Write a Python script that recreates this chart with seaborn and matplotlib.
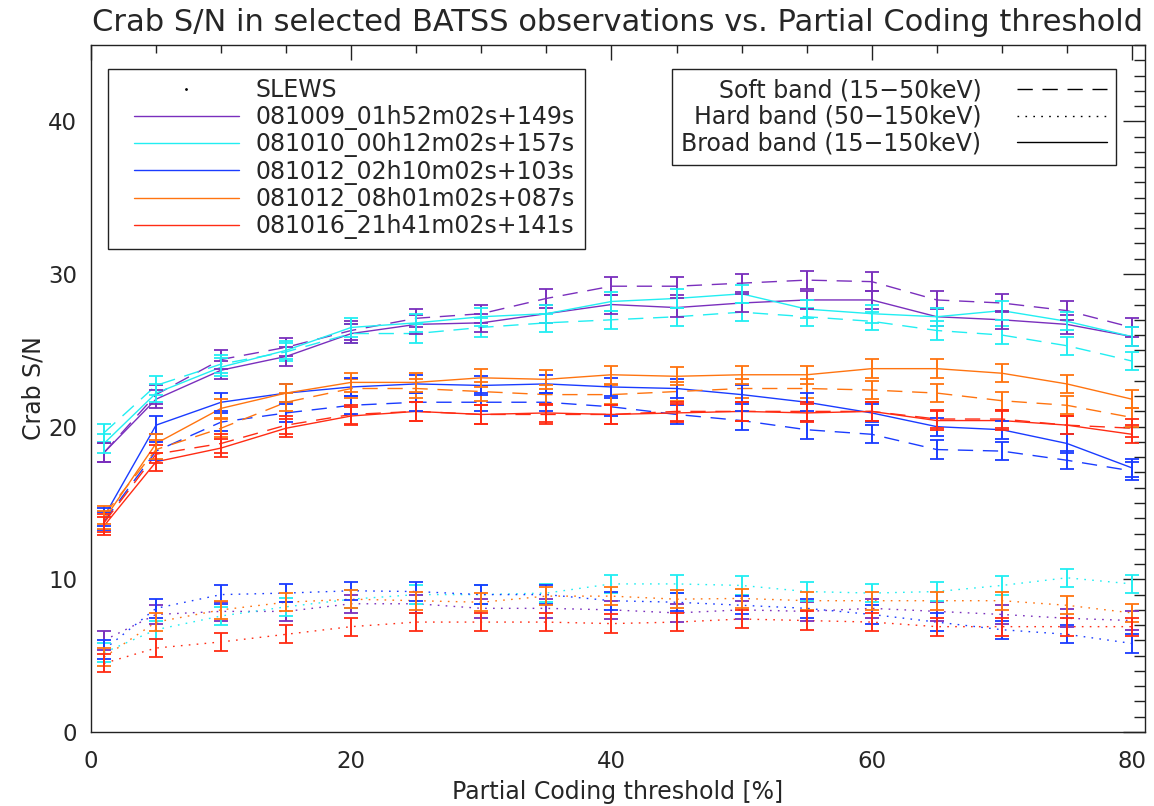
import matplotlib
matplotlib.use("Agg")
import matplotlib.pyplot as plt
from matplotlib.lines import Line2D
from matplotlib.legend_handler import HandlerLine2D
from matplotlib.ticker import MultipleLocator
import seaborn as sns
import pandas as pd

# ---------------- data ----------------
pc_threshold = [1, 5, 10, 15, 20, 25, 30, 35, 40, 45, 50, 55, 60, 65, 70, 75, 80]

observations = ["081009_01h52m02s+149s", "081010_00h12m02s+157s",
                "081012_02h10m02s+103s", "081012_08h01m02s+087s",
                "081016_21h41m02s+141s"]
obs_colors = ["#7a2fbd", "#22eef2", "#1a3cff", "#ff7410", "#ff2c14"]

bands = ["Soft band (15\u221250keV)", "Hard band (50\u2212150keV)", "Broad band (15\u2212150keV)"]

# broad band (solid)
broad_081009 = [18.3, 21.8, 23.7, 24.6, 26.1, 26.7, 26.8, 27.4, 28.0, 27.8, 28.1, 28.3, 28.3, 27.2, 27.0, 26.7, 25.9]
broad_081010 = [18.9, 22.2, 23.9, 25.0, 26.5, 26.8, 27.2, 27.4, 28.2, 28.4, 28.7, 27.7, 27.4, 27.2, 27.6, 26.9, 25.9]
broad_081012a = [14.1, 20.1, 21.6, 22.2, 22.6, 22.8, 22.7, 22.8, 22.6, 22.5, 22.1, 21.6, 20.9, 20.0, 19.8, 18.9, 17.3]
broad_081012b = [13.9, 18.9, 21.2, 22.2, 22.9, 22.9, 23.2, 23.1, 23.4, 23.3, 23.4, 23.4, 23.8, 23.8, 23.5, 22.8, 21.8]
broad_081016 = [13.5, 17.7, 18.6, 19.9, 20.7, 21.0, 20.8, 20.9, 20.8, 20.9, 21.0, 20.9, 21.0, 20.4, 20.4, 20.1, 19.5]

# soft band (dashed)
soft_081009 = [18.3, 22.1, 24.4, 25.2, 26.3, 27.1, 27.4, 28.4, 29.2, 29.2, 29.4, 29.6, 29.5, 28.3, 28.1, 27.6, 26.5]
soft_081010 = [19.6, 22.7, 24.1, 24.9, 26.1, 26.1, 26.5, 26.8, 27.0, 27.2, 27.5, 27.2, 26.9, 26.3, 26.0, 25.3, 24.3]
soft_081012a = [13.8, 18.4, 20.3, 20.9, 21.4, 21.6, 21.6, 21.6, 21.3, 20.8, 20.4, 19.8, 19.5, 18.5, 18.4, 17.8, 17.1]
soft_081012b = [14.2, 18.5, 19.9, 21.6, 22.5, 22.5, 22.3, 22.1, 22.1, 22.3, 22.5, 22.5, 22.4, 22.2, 21.7, 21.4, 20.6]
soft_081016 = [13.7, 18.2, 18.9, 20.1, 20.8, 21.0, 20.8, 20.8, 20.8, 21.0, 21.0, 21.0, 21.0, 20.5, 20.5, 20.1, 19.9]

# hard band (dotted)
hard_081009 = [6.0, 7.7, 7.9, 7.9, 8.4, 8.4, 8.1, 8.1, 8.0, 7.8, 8.0, 7.9, 8.1, 7.9, 7.7, 7.45, 7.3]
hard_081010 = [5.2, 6.7, 7.6, 8.2, 8.7, 9.0, 9.0, 9.1, 9.7, 9.7, 9.6, 9.2, 9.1, 9.2, 9.6, 10.1, 9.7]
hard_081012a = [5.4, 8.1, 9.0, 9.1, 9.25, 9.2, 9.0, 9.0, 8.6, 8.5, 8.3, 8.1, 7.7, 7.2, 6.7, 6.4, 5.8]
hard_081012b = [4.9, 7.2, 8.0, 8.5, 8.7, 8.6, 8.5, 8.9, 8.9, 8.7, 8.75, 8.6, 8.6, 8.6, 8.6, 8.3, 7.8]
hard_081016 = [4.5, 5.5, 5.9, 6.4, 6.9, 7.2, 7.2, 7.2, 7.1, 7.2, 7.4, 7.3, 7.2, 6.9, 6.9, 6.9, 6.9]

# 1-sigma error estimates per band
err_soft = 0.6
err_hard = 0.6
err_broad = 0.6

soft_vals = [soft_081009, soft_081010, soft_081012a, soft_081012b, soft_081016]
hard_vals = [hard_081009, hard_081010, hard_081012a, hard_081012b, hard_081016]
broad_vals = [broad_081009, broad_081010, broad_081012a, broad_081012b, broad_081016]

# ---------------- long-form table ----------------
rows = []
for band, vals_list, err in zip(bands, [soft_vals, hard_vals, broad_vals], [err_soft, err_hard, err_broad]):
    for obs, vals in zip(observations, vals_list):
        for xv, yv in zip(pc_threshold, vals):
            rows.append({"pc": xv, "sn": yv, "err": err, "obs": obs, "band": band})
df = pd.DataFrame(rows)

# ---------------- plot ----------------
sns.set_style("white")
plt.rcParams["font.family"] = ["DejaVu Sans"]

fig = plt.figure(figsize=(11.54, 8.06), dpi=100)
ax = fig.add_axes([91 / 1154, 1 - 732 / 806, (1145 - 91) / 1154, (732 - 45) / 806])

palette = dict(zip(observations, obs_colors))
dash_map = {bands[0]: (11, 7), bands[1]: (1.2, 4.5), bands[2]: ""}

sns.lineplot(data=df, x="pc", y="sn", hue="obs", style="band",
             hue_order=observations, style_order=bands,
             palette=palette, dashes=dash_map, errorbar=None,
             estimator=None, sort=False, linewidth=1.0, legend=False, ax=ax)

for (obs, band), g in df.groupby(["obs", "band"], sort=False):
    ax.errorbar(g["pc"], g["sn"], yerr=g["err"], fmt="none",
                ecolor=palette[obs], elinewidth=1.4, capsize=4.8, capthick=1.3,
                zorder=3)

ax.set_xlim(0, 81)
ax.set_ylim(0, 45)
ax.xaxis.set_major_locator(MultipleLocator(20))
ax.xaxis.set_minor_locator(MultipleLocator(5))
ax.yaxis.set_major_locator(MultipleLocator(10))
ax.yaxis.set_minor_locator(MultipleLocator(1))
ax.tick_params(which="both", direction="in", top=True, right=True,
               color="#222222", width=1.0, labelsize=16.5)
ax.tick_params(axis="x", which="both", pad=13)
ax.tick_params(axis="y", which="both", pad=10)
ax.tick_params(axis="x", which="major", length=10.8)
ax.tick_params(axis="x", which="minor", length=5.4)
ax.tick_params(axis="y", which="major", length=16)
ax.tick_params(axis="y", which="minor", length=8)
for sp in ax.spines.values():
    sp.set_color("#222222")
    sp.set_linewidth(1.0)

ax.set_xlabel("Partial Coding threshold [%]", fontsize=17, labelpad=5)
ax.set_ylabel("Crab S/N", fontsize=17, labelpad=2)
ax.set_title("Crab S/N in selected BATSS observations vs. Partial Coding threshold",
             fontsize=22, pad=10)

# legends
fs_leg = 17
obs_handles = [Line2D([], [], ls="none", marker=".", ms=2, color="k")]
obs_handles += [Line2D([], [], color=c, lw=1.0) for c in obs_colors]
leg1 = ax.legend(obs_handles, ["SLEWS"] + observations, loc="upper left",
                 bbox_to_anchor=(0.016, 0.965), borderaxespad=0, fontsize=fs_leg,
                 frameon=True, fancybox=False, edgecolor="#222222",
                 framealpha=1, handlelength=5.15, handletextpad=0.72,
                 labelspacing=0.1, borderpad=0.4,
                 handler_map={Line2D: HandlerLine2D(xpad=0.7)})
leg1.get_frame().set_linewidth(1.0)
ax.add_artist(leg1)

band_handles = [Line2D([], [], color="k", lw=1.0, dashes=dash_map[bands[0]]),
                Line2D([], [], color="k", lw=1.0, dashes=dash_map[bands[1]]),
                Line2D([], [], color="k", lw=1.0)]
leg2 = ax.legend(band_handles, bands, loc="upper right",
                 bbox_to_anchor=((1116 - 91) / 1054, 0.965), borderaxespad=0,
                 fontsize=fs_leg, frameon=True, fancybox=False, edgecolor="#222222",
                 framealpha=1, handlelength=3.8, handletextpad=1.5,
                 labelspacing=0.1, borderpad=0.4, markerfirst=False)
leg2.get_frame().set_linewidth(1.0)

fig.savefig("out.png", dpi=100)
